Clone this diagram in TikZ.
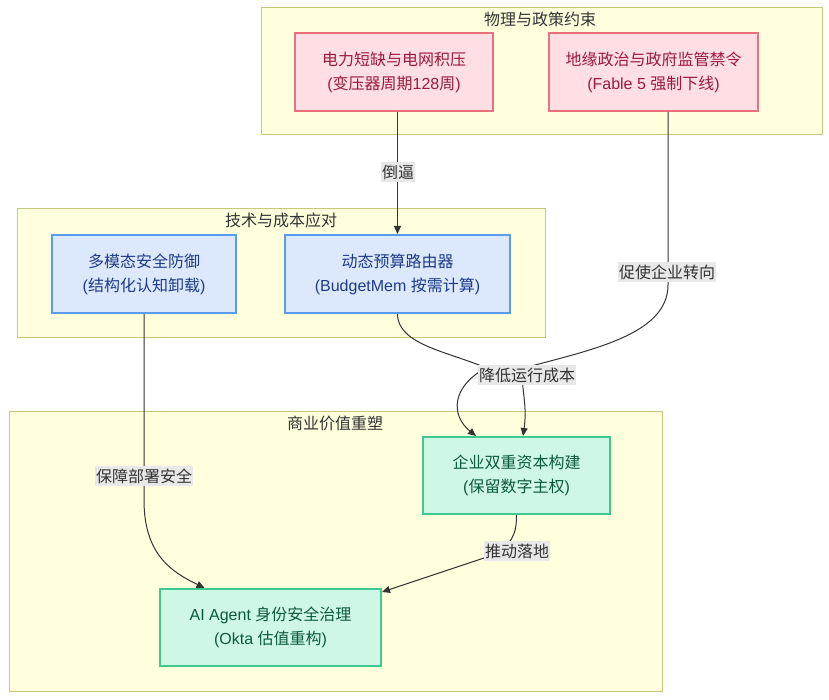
\documentclass[tikz,border=0pt]{standalone}
\usepackage{fontspec}
\setmainfont{Liberation Sans}
\newfontfamily\cjk{Noto Sans CJK SC}
\newcommand\zh[1]{{\cjk #1}}
\usetikzlibrary{arrows.meta,calc}
\definecolor{clfill}{HTML}{FFFFDE}
\definecolor{cldraw}{HTML}{C8C87A}
\definecolor{pkfill}{HTML}{FFDEE4}
\definecolor{pkdraw}{HTML}{E8707F}
\definecolor{pktext}{HTML}{9B1B3B}
\definecolor{blfill}{HTML}{DCE9FC}
\definecolor{bldraw}{HTML}{5B9BEB}
\definecolor{bltext}{HTML}{1E3A8A}
\definecolor{gnfill}{HTML}{CFF7E6}
\definecolor{gndraw}{HTML}{3DC98F}
\definecolor{gntext}{HTML}{0B5A3E}
\definecolor{edgecol}{HTML}{333333}
\definecolor{lblfill}{HTML}{E8E8E8}
\begin{document}
\begin{tikzpicture}[x=1pt,y=-1pt,
  cluster/.style={draw=cldraw,fill=clfill,line width=1pt,rectangle,inner sep=0},
  cltitle/.style={text=edgecol,font=\fontsize{16}{20}\selectfont,inner sep=0},
  box/.style={rectangle,line width=2pt,align=center,inner sep=0,
    font=\fontsize{16}{24}\selectfont,minimum height=78pt},
  pink/.style={box,draw=pkdraw,fill=pkfill,text=pktext},
  blue/.style={box,draw=bldraw,fill=blfill,text=bltext},
  green/.style={box,draw=gndraw,fill=gnfill,text=gntext},
  edge/.style={draw=edgecol,line width=1pt,-{Triangle[length=8pt,width=7pt]}},
  elabel/.style={fill=lblfill,text=edgecol,font=\fontsize{16}{20}\selectfont,inner xsep=1pt,inner ysep=3pt}
]
\useasboundingbox (0,0) rectangle (829,700);
\fill[white] (0,0) rectangle (829,700);

% clusters
\node[cluster,minimum width=561pt,minimum height=127pt] (top) at (541.5,71.5) {};
\node[cluster,minimum width=528pt,minimum height=128pt] (mid) at (281,273) {};
\node[cluster,minimum width=653pt,minimum height=280pt] (bot) at (335.5,551) {};
\node[cltitle] (ttop) at (540,19) {\zh{物理与政策约束}};
\node[cltitle] (tmid) at (281,220) {\zh{技术与成本应对}};
\node[cltitle] (tbot) at (335,423) {\zh{商业价值重塑}};

% nodes
\node[pink,minimum width=198pt] (A) at (394,72) {\zh{电力短缺与电网积压}\\(\zh{变压器周期}128\zh{周})};
\node[pink,minimum width=209pt] (B) at (653.5,72) {\zh{地缘政治与政府监管禁令}\\(Fable 5 \zh{强制下线})};
\node[blue,minimum width=184pt] (C) at (144,274) {\zh{多模态安全防御}\\(\zh{结构化认知卸载})};
\node[blue,minimum width=225pt] (D) at (397.5,274) {\zh{动态预算路由器}\\(BudgetMem \zh{按需计算})};
\node[green,minimum width=187pt,minimum height=77pt] (E) at (516.5,475.5) {\zh{企业双重资本构建}\\(\zh{保留数字主权})};
\node[green,minimum width=221pt,minimum height=77pt] (F) at (270.5,627.5) {AI Agent \zh{身份安全治理}\\(Okta \zh{估值重构})};

% edges
\draw[edge] (A.south -| D.north) -- (D.north);
\draw[edge] ($(B.south)+(14.5,0)$) -- (668,285) .. controls (668,335) and (590,350) .. (524,368)
   .. controls (519,382) and (528,402) .. ($(E.north)+(6.5,0)$);
\draw[edge] (D.south) .. controls (397.5,345) and (450,352) .. (486,368)
   .. controls (452,386) and (450,415) .. ($(E.north)+(-40.5,0)$);
\draw[edge] (C.south) -- (144,500) .. controls (144,555) and (172,572) .. ($(F.north)+(-66,0)$);
\draw[edge] (E.south) .. controls (516.5,535) and (512,545) .. (490,556) -- ($(F.north east)+(0,4)$);

% edge labels
\node[elabel] (l1) at (398,172) {\zh{倒逼}};
\node[elabel] (l2) at (667,272) {\zh{促使企业转向}};
\node[elabel] (l3) at (527,375) {\zh{降低运行成本}};
\node[elabel] (l4) at (144,476) {\zh{保障部署安全}};
\node[elabel] (l5) at (517,551) {\zh{推动落地}};
\end{tikzpicture}
\end{document}
